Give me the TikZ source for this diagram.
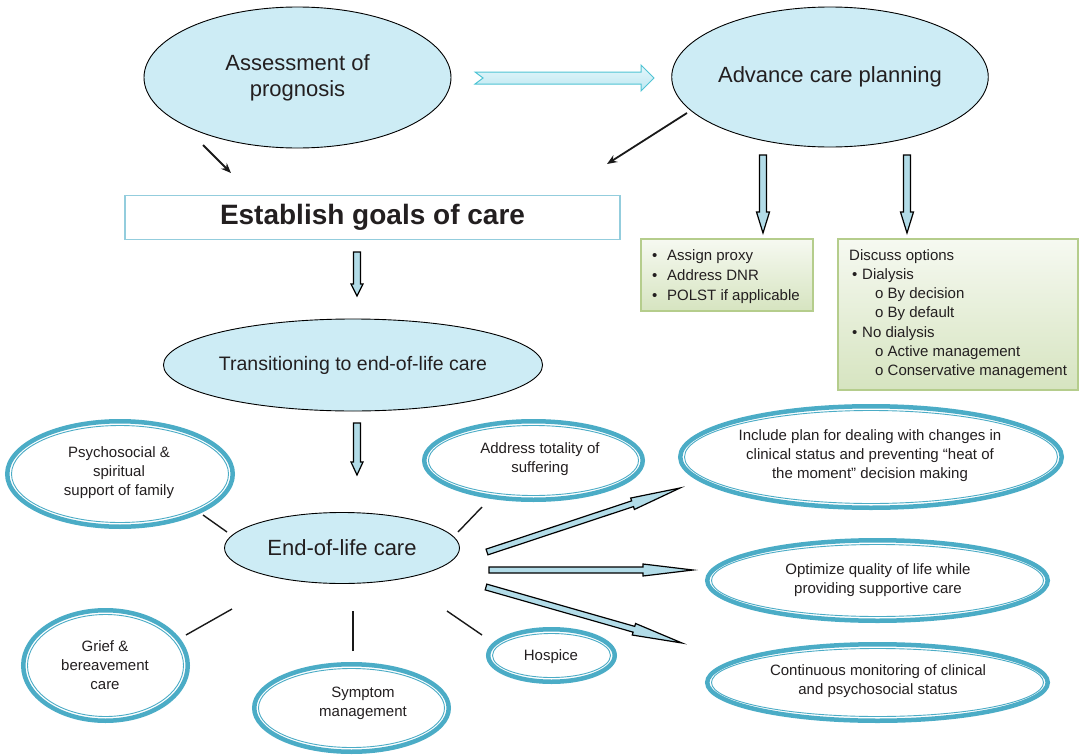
\documentclass[tikz,border=0pt]{standalone}
\usepackage{fontspec}
\setmainfont{Liberation Sans}
\usetikzlibrary{calc,shapes.geometric,arrows.meta,shadings}
\definecolor{cfill}{RGB}{205,236,245}
\definecolor{ringc}{RGB}{75,172,198}
\definecolor{afill}{RGB}{178,220,232}
\definecolor{estb}{RGB}{147,205,221}
\definecolor{gborder}{RGB}{181,205,140}
\definecolor{gtop}{RGB}{246,249,241}
\definecolor{gbot}{RGB}{214,228,192}
\definecolor{bigb}{RGB}{80,196,212}
\definecolor{bigt}{RGB}{230,247,251}
\definecolor{bigbot}{RGB}{188,231,241}
\definecolor{txtc}{RGB}{35,31,32}

% block arrow: [style]{start}{end}{half shaft}{half head}{head length}
\newcommand{\blockarrow}[6][barrow]{%
  \coordinate (ba-h) at ($(#3)!#6!(#2)$);
  \draw[#1] ($(#2)!#4!90:(#3)$) -- ($(ba-h)!#4!90:(#3)$) -- ($(ba-h)!#5!90:(#3)$) -- (#3)
    -- ($(ba-h)!#5!-90:(#3)$) -- ($(ba-h)!#4!-90:(#3)$) -- ($(#2)!#4!-90:(#3)$) -- cycle;}

\begin{document}
\begin{tikzpicture}[x=1pt,y=-1pt,
  every node/.style={text=txtc},
  cell/.style={ellipse, draw=black, line width=0.9pt, fill=cfill, inner sep=0pt, align=center},
  ringst/.style={ellipse, draw=ringc, line width=4.5pt, fill=white, inner sep=0pt},
  innerring/.style={draw=ringc, line width=0.9pt},
  txt/.style={align=center, inner sep=0pt, font=\fontsize{15}{19}\selectfont},
  barrow/.style={draw=black, line width=1.2pt, fill=afill, line join=miter},
  bigarrow/.style={draw=bigb, line width=1pt, top color=bigt, bottom color=bigbot},
  conn/.style={line width=1.4pt, draw=black!90},
  thinarrow/.style={line width=1.8pt, draw=black!90, -{Stealth[length=10pt,width=8pt]}},
  gbox/.style={draw=gborder, line width=2.2pt, top color=gtop, bottom color=gbot, inner sep=0pt},
  listtxt/.style={anchor=north west, align=left, inner sep=0pt},
]
\useasboundingbox (0,0) rectangle (1080,755);

% ---------- top ellipses ----------
\node[cell, minimum width=307, minimum height=141, font=\fontsize{22}{26}\selectfont] (assess) at (297.5,77.5) {Assessment of\\prognosis};
\node[cell, minimum width=298, minimum height=140, font=\fontsize{22}{26}\selectfont] (acp) at (830,77) {Advance care planning};

% big notched arrow
\coordinate (big-s) at (475,78);
\coordinate (big-e) at (654,78);
\coordinate (big-h) at ($(big-e)!13pt!(big-s)$);
\draw[bigarrow] ($(big-s)!6pt!90:(big-e)$) -- ($(big-h)!6pt!90:(big-e)$) -- ($(big-h)!13pt!90:(big-e)$) -- (big-e)
   -- ($(big-h)!13pt!-90:(big-e)$) -- ($(big-h)!6pt!-90:(big-e)$) -- ($(big-s)!6pt!-90:(big-e)$) -- ($(big-s)!8pt!(big-e)$) -- cycle;

% goals box
\node[draw=estb, line width=1.6pt, minimum width=495, minimum height=44, inner sep=0pt, font=\fontsize{28}{32}\selectfont\bfseries] (goals) at (372.5,217.5) {Establish goals of care};

% thin black arrows
\coordinate (as-out) at (203,145);
\coordinate (go-in1) at (231,173);
\coordinate (acp-out) at (687,113);
\coordinate (go-in2) at (607,164);
\draw[thinarrow] (as-out) -- (go-in1);
\draw[thinarrow] (acp-out) -- (go-in2);

% green boxes
\node[gbox, minimum width=172, minimum height=72] (proxy) at (727,275) {};
\node[gbox, minimum width=240, minimum height=151] (opts) at (958,314.5) {};
\node[listtxt, font=\fontsize{15}{20}\selectfont] (proxy-t) at (652,249)
  {\makebox[15pt][l]{•}Assign proxy\\\makebox[15pt][l]{•}Address DNR\\\makebox[15pt][l]{•}POLST if applicable};
\node[listtxt, font=\fontsize{15}{19.3}\selectfont] (opts-t) at (849,249)
  {Discuss options\\
   \hspace*{3pt}\makebox[10pt][l]{•}Dialysis\\
   \hspace*{26pt}o By decision\\
   \hspace*{26pt}o By default\\
   \hspace*{3pt}\makebox[10pt][l]{•}No dialysis\\
   \hspace*{26pt}o Active management\\
   \hspace*{26pt}o Conservative management};

% down arrows from ACP
\coordinate (acp-d1) at (763,155);
\coordinate (proxy-in) at (763,233);
\coordinate (acp-d2) at (907,155);
\coordinate (opts-in) at (907,233);
\blockarrow{acp-d1}{proxy-in}{3.5pt}{6.5pt}{21pt}
\blockarrow{acp-d2}{opts-in}{3.5pt}{6.5pt}{21pt}

% transitioning
\node[cell, minimum width=378, minimum height=92, font=\fontsize{19.5}{23}\selectfont] (trans) at (353,365) {Transitioning to end-of-life care};
\coordinate (go-out) at (357,252);
\coordinate (trans-in) at (357,296);
\blockarrow{go-out}{trans-in}{3.5pt}{6pt}{12pt}

% end-of-life care
\node[cell, minimum width=235, minimum height=71, font=\fontsize{22}{26}\selectfont] (eol) at (342,548) {End-of-life care};
\coordinate (trans-out) at (357,423);
\coordinate (eol-in) at (357,475);
\blockarrow{trans-out}{eol-in}{3.5pt}{6pt}{13pt}

% ---------- ring ellipses ----------
\node[ringst, minimum width=225.5, minimum height=105.5] (psych) at (120,474) {};
\draw[innerring] (psych.center) ellipse [x radius=108.5, y radius=48.5];
\node[txt] (psych-t) at (119,473) {Psychosocial \&\\spiritual\\support of family};

\node[ringst, minimum width=164.5, minimum height=110.5] (grief) at (105.5,665.5) {};
\draw[innerring] (grief.center) ellipse [x radius=78, y radius=51];
\node[txt] (grief-t) at (105,665) {Grief \&\\bereavement\\care};

\node[ringst, minimum width=194.5, minimum height=87.5] (symp) at (351.5,708) {};
\draw[innerring] (symp.center) ellipse [x radius=93, y radius=39.5];
\node[txt] (symp-t) at (363,703) {Symptom\\management};

\node[ringst, minimum width=126.5, minimum height=52.5] (hosp) at (551.5,655.5) {};
\draw[innerring] (hosp.center) ellipse [x radius=59, y radius=22];
\node[txt] (hosp-t) at (551,657) {Hospice};

\node[ringst, minimum width=218.5, minimum height=78.5] (addr) at (533.5,460.5) {};
\draw[innerring] (addr.center) ellipse [x radius=105, y radius=35];
\node[txt] (addr-t) at (540,459) {Address totality of\\suffering};

\node[ringst, minimum width=381.5, minimum height=101.5] (incl) at (871,457) {};
\draw[innerring] (incl.center) ellipse [x radius=186.5, y radius=46.5];
\node[txt] (incl-t) at (870,456) {Include plan for dealing with changes in\\clinical status and preventing \textquotedblleft heat of\\the moment\textquotedblright\ decision making};

\node[ringst, minimum width=340.5, minimum height=80.5] (optim) at (877.5,580.5) {};
\draw[innerring] (optim.center) ellipse [x radius=166, y radius=36];
\node[txt] (optim-t) at (878,580) {Optimize quality of life while\\providing supportive care};

\node[ringst, minimum width=340.5, minimum height=76.5] (cont) at (877.5,682.5) {};
\draw[innerring] (cont.center) ellipse [x radius=166, y radius=34];
\node[txt] (cont-t) at (878,681.5) {Continuous monitoring of clinical\\and psychosocial status};

% ---------- plain connectors ----------
\coordinate (psych-c) at (203,515);   \coordinate (eol-c1) at (227,532);
\coordinate (addr-c) at (482,507);    \coordinate (eol-c2) at (458,532);
\coordinate (grief-c) at (186,635);   \coordinate (eol-c3) at (232,609);
\coordinate (symp-c) at (353,651);    \coordinate (eol-c4) at (353,611);
\coordinate (hosp-c) at (482,635);    \coordinate (eol-c5) at (447,611);
\draw[conn] (psych-c) -- (eol-c1);
\draw[conn] (addr-c) -- (eol-c2);
\draw[conn] (grief-c) -- (eol-c3);
\draw[conn] (symp-c) -- (eol-c4);
\draw[conn] (hosp-c) -- (eol-c5);

% ---------- long block arrows ----------
\coordinate (eol-o1) at (487,552);  \coordinate (incl-in) at (680,488);
\coordinate (eol-o2) at (489,570);  \coordinate (optim-in) at (693,570);
\coordinate (eol-o3) at (486,587);  \coordinate (cont-in) at (682,643);
\blockarrow{eol-o1}{incl-in}{3pt}{6pt}{50pt}
\blockarrow{eol-o2}{optim-in}{3pt}{6pt}{50pt}
\blockarrow{eol-o3}{cont-in}{3pt}{6pt}{50pt}
\end{tikzpicture}
\end{document}
